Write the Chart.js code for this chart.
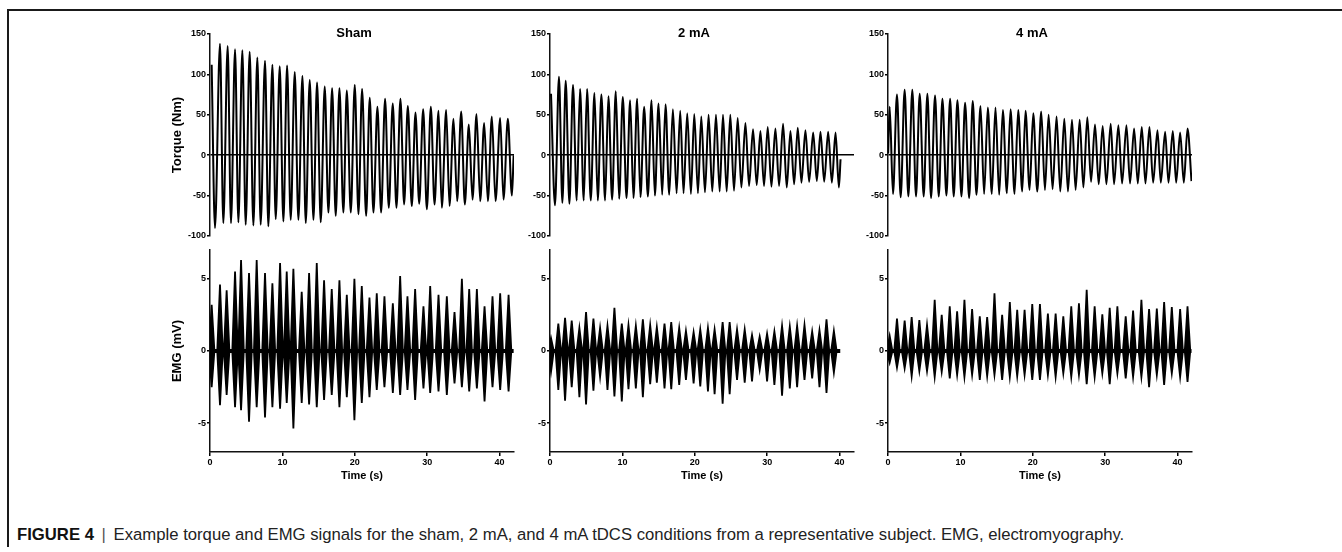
<!DOCTYPE html>
<html>
<head>
<meta charset="utf-8">
<script src="https://cdn.jsdelivr.net/npm/chart.js@4.4.1/dist/chart.umd.min.js"></script>
<style>
html,body{margin:0;padding:0;background:#fff;width:1342px;height:552px;overflow:hidden;position:relative;font-family:'Liberation Sans',Arial,sans-serif;}
.frameTop{position:absolute;left:7px;top:9px;width:1335px;height:2px;background:#1a1a1a;}
.frameLeft{position:absolute;left:7px;top:9px;width:2px;height:538px;background:#1a1a1a;}
canvas{position:absolute;}
#caption{position:absolute;left:17px;top:525px;font-size:16.7px;line-height:19px;color:#222;white-space:nowrap;}
#caption b{color:#111;}
#caption .sep{color:#555;margin:0 3px;}
</style>
</head>
<body>
<div class="frameTop"></div>
<div class="frameLeft"></div>
<div id="caption"><b>FIGURE 4</b><span class="sep"> | </span>Example torque and EMG signals for the sham, 2 mA, and 4 mA tDCS conditions from a representative subject. EMG, electromyography.</div>
<script>
// ---------- axes ----------
const timeTicks = [0, 10, 20, 30, 40];
const timeRange = [0, 42];
const torqueTicks = [-100, -50, 0, 50, 100, 150];
const torqueRange = [-100, 150];
const emgTicks = [-5, 0, 5];
const emgRange = [-7, 7];
const panelTitles = ['Sham', '2 mA', '4 mA'];

// ---------- Sham torque ----------
const shamPeakT = [0.23,1.38,2.44,3.46,4.47,5.48,6.54,7.60,8.62,9.63,10.65,11.71,12.77,13.78,14.79,15.85,16.87,17.88,18.90,20.00,21.01,22.07,23.13,24.19,25.25,26.31,27.33,28.39,29.45,30.51,31.57,32.63,33.64,34.70,35.76,36.82,37.88,38.94,40.09,41.15];
const shamPeakV = [112,138,135,131,130,128,121,117,112,110,111,103,98,93,90,85,83,83,80,87,82,71,60,70,64,70,61,53,57,60,55,56,45,54,38,51,40,48,46,45];
const shamTroughT = [0.69,1.84,2.90,3.92,4.93,5.99,7.00,8.06,9.08,10.14,11.15,12.21,13.23,14.29,15.30,16.36,17.37,18.43,19.45,20.51,21.57,22.58,23.64,24.70,25.76,26.82,27.88,28.90,29.96,31.02,32.03,33.09,34.15,35.21,36.27,37.33,38.39,39.45,40.55,41.71];
const shamTroughV = [-90,-84,-84,-83,-86,-87,-86,-88,-79,-82,-80,-80,-84,-80,-83,-71,-75,-71,-71,-73,-75,-71,-71,-65,-65,-61,-63,-60,-67,-61,-65,-63,-57,-61,-55,-57,-57,-57,-55,-50];
const shamTailT = [41.95];
const shamTailV = [0];

// ---------- 2 mA torque ----------
const ma2PeakT = [0.14,1.24,2.17,3.18,4.15,5.12,6.14,7.10,8.07,9.09,10.06,11.07,12.04,13.01,14.03,15.00,15.96,16.98,17.99,18.96,19.93,20.90,21.91,22.93,23.90,24.91,25.93,27.00,28.05,29.07,30.08,31.14,32.20,33.22,34.23,35.29,36.36,37.37,38.43,39.45];
const ma2PeakV = [76,97,92,87,82,82,77,75,73,79,72,68,70,60,68,64,63,57,55,52,51,48,50,50,50,50,46,40,32,30,35,33,39,30,34,31,28,29,29,28];
const ma2TroughT = [0.69,1.71,2.68,3.69,4.66,5.63,6.60,7.61,8.58,9.55,10.57,11.53,12.50,13.52,14.49,15.50,16.47,17.49,18.45,19.47,20.44,21.41,22.42,23.44,24.41,25.42,26.44,27.50,28.56,29.57,30.59,31.65,32.71,33.73,34.74,35.80,36.86,37.88,38.94,39.91];
const ma2TroughV = [-62,-59,-60,-56,-56,-56,-56,-56,-55,-54,-53,-53,-52,-51,-50,-49,-49,-47,-47,-48,-47,-46,-45,-45,-45,-44,-40,-38,-37,-38,-39,-38,-40,-36,-34,-33,-32,-33,-34,-40];
const ma2TailT = [40.14];
const ma2TailV = [-5];

// ---------- 4 mA torque ----------
const ma4HeadT = [0.02];
const ma4HeadV = [2];
const ma4PeakT = [0.23,1.24,2.30,3.36,4.38,5.44,6.50,7.52,8.58,9.59,10.65,11.71,12.78,13.79,14.85,15.87,16.93,17.99,19.00,20.07,21.17,22.19,23.29,24.36,25.42,26.48,27.54,28.60,29.66,30.77,31.83,32.94,34.00,35.06,36.12,37.23,38.29,39.35,40.36,41.38];
const ma4PeakV = [60,75,81,81,76,76,74,70,70,68,65,67,61,59,59,56,57,56,55,52,54,50,48,45,44,44,47,38,36,39,37,37,33,35,35,31,29,30,28,33];
const ma4TroughT = [0.69,1.75,2.81,3.87,4.93,5.95,7.01,8.07,9.08,10.15,11.21,12.22,13.28,14.34,15.36,16.42,17.48,18.54,19.56,20.62,21.68,22.74,23.80,24.86,25.92,26.99,28.05,29.11,30.17,31.23,32.34,33.44,34.51,35.57,36.63,37.69,38.75,39.81,40.87,41.93];
const ma4TroughV = [-48,-52,-51,-51,-51,-53,-51,-50,-51,-51,-53,-49,-48,-48,-49,-47,-48,-45,-43,-45,-43,-42,-45,-45,-43,-40,-33,-36,-36,-36,-35,-35,-35,-35,-34,-34,-34,-34,-34,-32];

// ---------- EMG bursts ----------
const shamEmgT = [0.23,1.38,2.30,3.46,4.29,5.39,6.45,7.60,8.62,9.68,10.60,11.52,12.67,13.69,14.75,15.76,16.82,17.88,18.90,19.95,20.97,22.03,23.04,24.10,25.26,26.27,27.28,28.34,29.49,30.42,31.57,32.72,33.78,34.80,35.81,36.87,37.93,39.03,40.09,41.25];
const shamEmgPos = [3.2,4.6,4.2,5.5,6.3,5.4,6.3,5.4,4.7,6.1,5.5,5.7,4.1,5.4,6.1,4.9,4.3,4.9,3.9,5.0,4.5,3.7,4.0,3.8,3.3,5.2,3.8,4.3,3.1,4.5,3.9,3.8,2.7,5.0,4.3,4.3,3.1,3.8,4.0,3.9];
const shamEmgNeg = [-2.5,-3.75,-3.05,-3.9,-4.1,-4.9,-3.9,-4.6,-3.9,-4.0,-3.6,-5.37,-3.6,-3.7,-3.9,-3.4,-3.05,-3.9,-3.2,-4.8,-3.6,-3.2,-2.7,-2.5,-2.9,-3.05,-2.7,-3.4,-2.6,-2.9,-2.8,-3.05,-2.25,-2.5,-2.8,-2.6,-3.5,-2.5,-2.7,-2.8];
const shamEmgSpan = [0, 41.95];

const ma2EmgT = [0.14,1.15,2.08,3.00,4.06,4.98,6.00,6.92,7.94,8.90,9.92,10.84,11.86,12.83,13.84,14.76,15.82,16.75,17.85,18.78,19.84,20.76,21.82,22.74,23.85,24.82,25.84,26.90,27.91,28.97,29.99,31.00,32.06,33.13,34.14,35.16,36.22,37.23,38.20,39.22];
const ma2EmgPos = [0.9,1.9,2.3,2.1,1.6,2.7,2.25,1.6,1.75,3.0,1.9,1.8,1.75,2.2,1.8,1.65,1.9,2.0,1.6,1.4,1.3,1.5,1.6,1.5,2.0,2.0,1.5,1.5,1.1,1.0,1.2,1.35,1.75,1.7,1.75,1.8,1.35,1.45,2.2,1.4];
const ma2EmgNeg = [-1.45,-2.7,-3.45,-2.5,-3.2,-3.7,-2.75,-1.8,-2.7,-3.15,-3.5,-2.65,-2.6,-3.2,-2.3,-2.2,-2.6,-2.65,-2.35,-2.0,-2.25,-2.45,-2.8,-3.0,-3.65,-3.0,-2.0,-2.2,-2.1,-1.3,-2.1,-2.35,-3.1,-2.6,-2.5,-2.0,-1.9,-2.5,-2.9,-1.5];
const ma2EmgSpan = [0, 40.1];

const ma4EmgT = [0.23,1.24,2.30,3.27,4.33,5.39,6.45,7.42,8.53,9.55,10.56,11.62,12.68,13.70,14.71,15.77,16.83,17.85,18.87,19.93,20.99,22.09,23.16,24.22,25.32,26.38,27.45,28.55,29.61,30.63,31.69,32.84,33.86,35.01,36.07,37.14,38.15,39.21,40.36,41.38];
const ma4EmgPos = [1.05,2.25,2.1,2.35,2.15,1.8,3.55,2.5,3.1,2.75,3.55,2.9,2.4,2.35,4.0,2.5,3.4,2.85,2.85,3.25,3.25,2.6,2.6,2.4,3.1,3.3,4.25,3.1,2.55,3.0,3.1,2.4,2.8,3.55,2.9,2.95,3.4,3.05,2.9,3.1];
const ma4EmgNeg = [-0.8,-1.15,-1.2,-1.75,-1.4,-1.4,-1.8,-1.45,-1.9,-1.65,-1.8,-1.65,-2.0,-1.75,-1.65,-2.0,-1.8,-1.75,-1.65,-2.0,-2.0,-1.65,-1.8,-1.55,-1.8,-1.65,-2.3,-1.8,-1.55,-2.3,-1.55,-1.9,-1.8,-1.8,-2.5,-1.65,-2.35,-1.55,-1.8,-2.15];
const ma4EmgSpan = [0, 41.93];

// ---------- builders ----------
function torquePoints(headT, headV, peakT, peakV, troughT, troughV, tailT, tailV) {
  const pts = [];
  headT.forEach((t, i) => pts.push({x: t, y: headV[i]}));
  peakT.forEach((t, i) => {
    pts.push({x: t, y: peakV[i]});
    if (i < troughT.length) pts.push({x: troughT[i], y: troughV[i]});
  });
  tailT.forEach((t, i) => pts.push({x: t, y: tailV[i]}));
  return pts;
}
// style: half-width (in seconds) of each drawn burst spindle
const BURST_HALF = 0.38;
function spindlePoints(ts, vals) {
  const pts = [];
  ts.forEach((t, i) => {
    pts.push({x: t - BURST_HALF, y: 0});
    pts.push({x: t, y: vals[i]});
    pts.push({x: t + BURST_HALF, y: 0});
  });
  return pts;
}

const FONT = "'Liberation Sans', Arial, Helvetica, sans-serif";
const YW = 40, PAD_T = 10, PAD_R = 8, PW = 304, PH = 202, XH = 31, PAD_B_TOP = 8;

const titlePlugin = {
  id: 'panelTitle',
  afterDraw(chart, args, opts) {
    if (!opts || !opts.text) return;
    const {ctx, chartArea} = chart;
    ctx.save();
    ctx.font = 'bold 13px ' + FONT;
    ctx.fillStyle = '#000';
    ctx.textAlign = 'center';
    ctx.textBaseline = 'middle';
    ctx.fillText(opts.text, (chartArea.left + chartArea.right) / 2 + opts.dx, chartArea.top + opts.dy);
    ctx.restore();
  }
};

function makePanel(plotLeft, plotTop, kind, title, yTitle, datasets) {
  const isTorque = kind === 'torque';
  const cv = document.createElement('canvas');
  const w = YW + PW + PAD_R;
  const h = PAD_T + PH + (isTorque ? PAD_B_TOP : XH);
  cv.width = w; cv.height = h;
  cv.style.left = (plotLeft - YW) + 'px';
  cv.style.top = (plotTop - PAD_T) + 'px';
  cv.style.width = w + 'px'; cv.style.height = h + 'px';
  document.body.appendChild(cv);
  const yTicks = isTorque ? torqueTicks : emgTicks;
  const yRange = isTorque ? torqueRange : emgRange;
  new Chart(cv, {
    type: 'line',
    data: {datasets},
    plugins: [titlePlugin],
    options: {
      responsive: false, animation: false, devicePixelRatio: 1,
      layout: {padding: {top: PAD_T, right: PAD_R, left: 0, bottom: isTorque ? PAD_B_TOP : 0}},
      plugins: {legend: {display: false}, tooltip: {enabled: false},
        panelTitle: {text: title, dx: -8, dy: -1}},
      scales: {
        x: {
          type: 'linear', min: timeRange[0], max: timeRange[1], offset: false,
          display: !isTorque,
          afterBuildTicks: s => { s.ticks = timeTicks.map(v => ({value: v})); },
          afterFit: s => { s.height = isTorque ? 0 : XH; },
          grid: {display: true, offset: false, drawOnChartArea: false, drawTicks: true, tickLength: 4, color: '#000', lineWidth: 1.5},
          border: {display: true, color: '#111', width: 1.5},
          ticks: {padding: 1, color: '#000', font: {family: FONT, size: 9, weight: 'bold'}, maxRotation: 0, autoSkip: false},
          title: {display: true, text: 'Time (s)', color: '#000', padding: {top: 0, bottom: 0}, font: {family: FONT, size: 11, weight: 'bold'}}
        },
        y: {
          type: 'linear', min: yRange[0], max: yRange[1],
          afterBuildTicks: s => { s.ticks = yTicks.map(v => ({value: v})); },
          afterFit: s => { s.width = YW; },
          grid: {
            display: true, drawOnChartArea: isTorque, drawTicks: true, tickLength: 3,
            color: c => (isTorque && c.tick && c.tick.value === 0) ? '#000' : 'rgba(0,0,0,0)',
            tickColor: '#000', lineWidth: 1.5
          },
          border: {display: true, color: '#111', width: 1.5},
          ticks: {padding: 1, color: '#000', font: {family: FONT, size: 9, weight: 'bold'}, autoSkip: false,
            callback: v => String(v)},
          title: {display: !!yTitle, text: yTitle || '', color: '#000', padding: {top: 0, bottom: 0}, font: {family: FONT, size: 13, weight: 'bold'}}
        }
      }
    }
  });
}

function torqueDataset(points) {
  return {type: 'line', data: points, borderColor: '#000', borderWidth: 2.0, pointRadius: 0,
    cubicInterpolationMode: 'monotone', fill: false};
}
function emgDatasets(ts, pos, neg, span) {
  const spindle = vals => ({type: 'line', data: spindlePoints(ts, vals), borderColor: '#000', backgroundColor: '#000',
    borderWidth: 1.8, pointRadius: 0, tension: 0, fill: 'origin', borderJoinStyle: 'miter'});
  return [
    spindle(pos),
    spindle(neg),
    {type: 'line', data: span.map(t => ({x: t, y: 0})), borderColor: '#000', borderWidth: 4, pointRadius: 0, fill: false}
  ];
}

const lefts = [210, 550, 888];
makePanel(lefts[0], 34, 'torque', panelTitles[0], 'Torque (Nm)',
  [torqueDataset(torquePoints([], [], shamPeakT, shamPeakV, shamTroughT, shamTroughV, shamTailT, shamTailV))]);
makePanel(lefts[1], 34, 'torque', panelTitles[1], null,
  [torqueDataset(torquePoints([], [], ma2PeakT, ma2PeakV, ma2TroughT, ma2TroughV, ma2TailT, ma2TailV))]);
makePanel(lefts[2], 34, 'torque', panelTitles[2], null,
  [torqueDataset(torquePoints(ma4HeadT, ma4HeadV, ma4PeakT, ma4PeakV, ma4TroughT, ma4TroughV, [], []))]);

makePanel(lefts[0], 250, 'emg', null, 'EMG (mV)', emgDatasets(shamEmgT, shamEmgPos, shamEmgNeg, shamEmgSpan));
makePanel(lefts[1], 250, 'emg', null, null, emgDatasets(ma2EmgT, ma2EmgPos, ma2EmgNeg, ma2EmgSpan));
makePanel(lefts[2], 250, 'emg', null, null, emgDatasets(ma4EmgT, ma4EmgPos, ma4EmgNeg, ma4EmgSpan));
</script>
</body>
</html>
